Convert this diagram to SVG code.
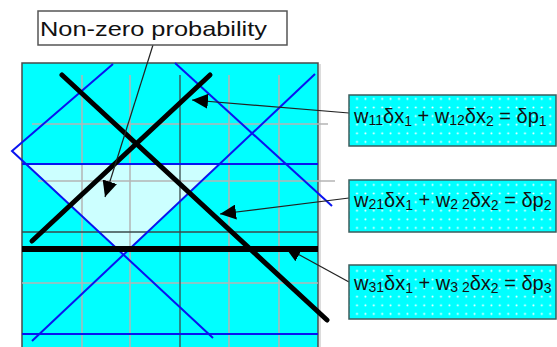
<svg xmlns="http://www.w3.org/2000/svg" width="557" height="347" viewBox="0 0 557 347">
<style>
.grid{stroke:#b4b4b4;stroke-width:1.5;fill:none}
.dark{stroke:#3a4a4a;stroke-width:1.3;fill:none}
.blue{stroke:#0a14f0;stroke-width:2;fill:none}
.thick{stroke:#000;stroke-width:5;fill:none;stroke-linecap:round}
.conn{stroke:#222;stroke-width:1.2;fill:none}
.eqbox{fill:url(#dots);stroke:#3d5c5c;stroke-width:1.5}
.eq{font-family:"Liberation Sans",Arial,sans-serif;font-size:20px;fill:#111}
.sub{font-size:14px}
.lbl{font-family:"Liberation Sans",Arial,sans-serif;font-size:21px;fill:#111}
</style>
<defs>
<pattern id="dots" width="8.4" height="8.6" patternUnits="userSpaceOnUse">
<rect width="8.4" height="8.6" fill="#00ffff"/>
<circle cx="4.2" cy="4.3" r="1" fill="#ffffff"/>
</pattern>
<marker id="ah" markerUnits="userSpaceOnUse" markerWidth="17" markerHeight="15" refX="16" refY="7.5" orient="auto">
<path d="M0,0 L16,7.5 L0,15 z" fill="#000"/>
</marker>
</defs>

<!-- panel -->
<rect x="22" y="63" width="296" height="300" fill="#00ffff" stroke="#4a4a4a" stroke-width="1.5"/>
<line x1="320" y1="64" x2="320" y2="347" stroke="#d0d0d0" stroke-width="1.5"/>
<polygon points="26,164 219.6,164 123.5,254.7" fill="#ccffff"/>
<g class="grid">
<line x1="82" y1="75" x2="82" y2="347"/>
<line x1="130" y1="75" x2="130" y2="347"/>
<line x1="229" y1="75" x2="229" y2="347"/>
<line x1="279" y1="75" x2="279" y2="347"/>
<line x1="32" y1="124" x2="328" y2="124"/>
<line x1="38" y1="181" x2="335" y2="181"/>
<line x1="22" y1="283" x2="318" y2="283"/>
</g>
<g class="dark">
<line x1="180" y1="75" x2="180" y2="347"/>
<line x1="22" y1="232" x2="318" y2="232"/>
</g>
<g class="blue">
<line x1="22" y1="164" x2="318" y2="164"/>
<line x1="22" y1="334" x2="318" y2="334"/>
<polyline points="113,64 12,151 213,338"/>
<line x1="32" y1="341" x2="315" y2="74"/>
<line x1="175" y1="63" x2="332" y2="206"/>
</g>

<g id="connectors">
<line class="conn" x1="349" y1="282" x2="285" y2="247" marker-end="url(#ah)"/>
</g>

<g class="thick">
<line x1="62" y1="75" x2="327" y2="320"/>
<line x1="210" y1="75" x2="32" y2="241"/>
</g>
<line x1="22" y1="249" x2="318" y2="249" stroke="#000" stroke-width="6"/>

<g id="connectors-top">
<line class="conn" x1="153" y1="45" x2="105" y2="197" marker-end="url(#ah)"/>
<line class="conn" x1="349" y1="113" x2="192" y2="100" marker-end="url(#ah)"/>
<line class="conn" x1="349" y1="198" x2="220" y2="214" marker-end="url(#ah)"/>
</g>

<g id="label-nonzero">
<rect x="38" y="11" width="249" height="34" fill="#fff" stroke="#555" stroke-width="1.5"/>
<text class="lbl" x="40" y="36" textLength="227" lengthAdjust="spacingAndGlyphs">Non-zero probability</text>
</g>

<g id="eq1">
<rect class="eqbox" x="349" y="95" width="207" height="51"/>
<text class="eq" x="354" y="123">w<tspan class="sub" dy="2">11</tspan><tspan dy="-2">δx</tspan><tspan class="sub" dy="3">1</tspan><tspan dy="-3"> + w</tspan><tspan class="sub" dy="2">12</tspan><tspan dy="-2">δx</tspan><tspan class="sub" dy="3">2</tspan><tspan dy="-3"> = δp</tspan><tspan class="sub" dy="3">1</tspan></text>
</g>

<g id="eq2">
<rect class="eqbox" x="349" y="180" width="207" height="52"/>
<text class="eq" x="354" y="207">w<tspan class="sub" dy="2">21</tspan><tspan dy="-2">δx</tspan><tspan class="sub" dy="3">1</tspan><tspan dy="-3"> + w</tspan><tspan class="sub" dy="2">2 2</tspan><tspan dy="-2">δx</tspan><tspan class="sub" dy="3">2</tspan><tspan dy="-3"> = δp</tspan><tspan class="sub" dy="3">2</tspan></text>
</g>

<g id="eq3">
<rect class="eqbox" x="349" y="265" width="207" height="54"/>
<text class="eq" x="354" y="290">w<tspan class="sub" dy="2">31</tspan><tspan dy="-2">δx</tspan><tspan class="sub" dy="3">1</tspan><tspan dy="-3"> + w</tspan><tspan class="sub" dy="2">3 2</tspan><tspan dy="-2">δx</tspan><tspan class="sub" dy="3">2</tspan><tspan dy="-3"> = δp</tspan><tspan class="sub" dy="3">3</tspan></text>
</g>
</svg>
